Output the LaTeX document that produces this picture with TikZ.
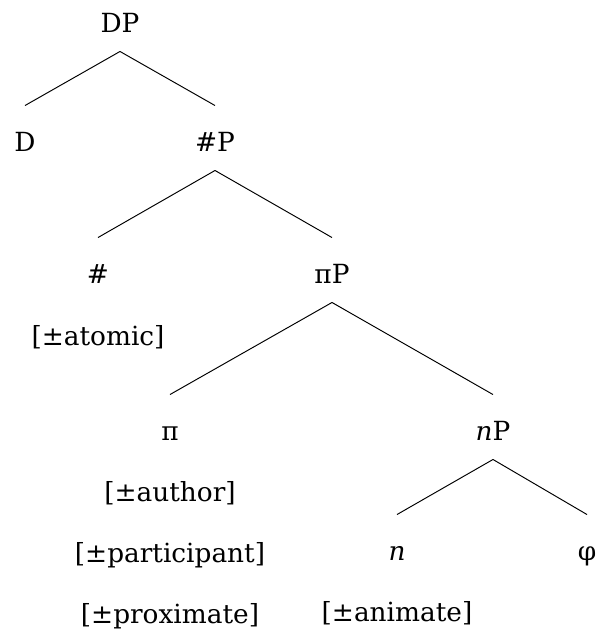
\documentclass[tikz,border=0pt]{standalone}
\usepackage{fontspec}
\setmainfont{DejaVu Serif}

\tikzset{
  cat/.style={anchor=base, inner xsep=0pt, inner ysep=0pt, text height=0.9cm, text depth=0.38cm},
  feat/.style={anchor=base, inner sep=0pt}
}

\begin{document}
\begin{tikzpicture}[x=0.02cm,y=-0.02cm,font=\fontsize{15}{18}\selectfont,line width=0.55pt]
    \useasboundingbox (0,0) rectangle (600,639);
    % categories
    \node[cat] (DP) at (120,32) {DP};
    \node[cat] (D) at (25,151) {D};
    \node[cat] (numP) at (215,151) {\#P};
    \node[cat] (num) at (98,283) {\#};
    \node[cat] (piP) at (332,283) {πP};
    \node[cat] (pi) at (170,440) {π};
    \node[cat] (nP) at (493,440) {\textit{n}P};
    \node[cat] (n) at (397,560) {\textit{n}};
    \node[cat] (phi) at (587,560) {φ};
    % features
    \node[feat] (atomic) at (98,345) {[±atomic]};
    \node[feat] (author) at (170,501) {[±author]};
    \node[feat] (participant) at (170,562) {[±participant]};
    \node[feat] (proximate) at (170,623) {[±proximate]};
    \node[feat] (animate) at (397,621) {[±animate]};
    % branches
    \draw (DP.south) -- (D.north);
    \draw (DP.south) -- (numP.north);
    \draw (numP.south) -- (num.north);
    \draw (numP.south) -- (piP.north);
    \draw (piP.south) -- (pi.north);
    \draw (piP.south) -- (nP.north);
    \draw (nP.south) -- (n.north);
    \draw (nP.south) -- (phi.north);
\end{tikzpicture}
\end{document}
